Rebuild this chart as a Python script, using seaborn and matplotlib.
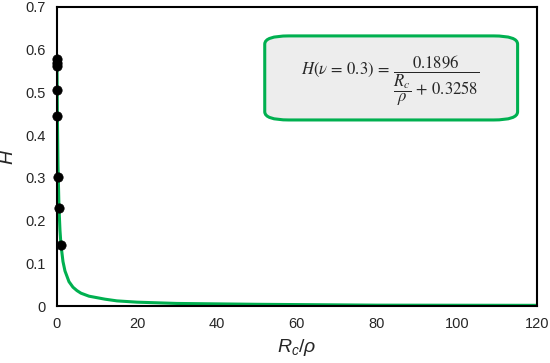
import numpy as np
import pandas as pd
import matplotlib
matplotlib.use("Agg")
import matplotlib.pyplot as plt
import seaborn as sns
from matplotlib.patches import FancyBboxPatch

# data
curve_x = [0, 0.1, 0.25, 0.5, 0.75, 1, 1.5, 2, 3, 4, 5, 6, 8, 12, 15, 20, 30, 50, 80, 120]
curve_h = [0.582, 0.445, 0.330, 0.230, 0.177, 0.143, 0.104, 0.082, 0.057, 0.044,
           0.036, 0.030, 0.023, 0.016, 0.012, 0.009, 0.006, 0.004, 0.002, 0.0016]
pts_x = [0.0, 0.005, 0.015, 0.05, 0.1, 0.3, 0.5, 1.0]
pts_h = [0.577, 0.569, 0.561, 0.505, 0.445, 0.303, 0.229, 0.143]

sns.set_style("white")
plt.rcParams['font.family'] = ['Liberation Sans', 'DejaVu Sans']
plt.rcParams['mathtext.fontset'] = 'custom'
plt.rcParams['mathtext.it'] = 'Liberation Sans:italic'
plt.rcParams['mathtext.rm'] = 'Liberation Sans'

fig = plt.figure(figsize=(5.5, 3.63), dpi=100)
ax = fig.add_axes([0.1036, 0.157, 0.8724, 0.824])

curve = pd.DataFrame({'x': curve_x, 'H': curve_h})
pts = pd.DataFrame({'x': pts_x, 'H': pts_h})
sns.lineplot(data=curve, x='x', y='H', color='#00B050', linewidth=2.2, ax=ax, zorder=2)
sns.scatterplot(data=pts, x='x', y='H', color='black', s=45, edgecolor='black', ax=ax, zorder=3, clip_on=False)

ax.set_xlim(0, 120)
ax.set_ylim(0, 0.7)
ax.set_xticks(np.arange(0, 121, 20))
ax.set_yticks(np.arange(0, 0.71, 0.1))
ax.set_yticklabels(['0', '0.1', '0.2', '0.3', '0.4', '0.5', '0.6', '0.7'])
ax.tick_params(labelsize=10.5, length=0, pad=8)
for s in ax.spines.values():
    s.set_color('black')
    s.set_linewidth(1.5)

ax.set_xlabel(r'$R_c/\rho$', fontsize=14, labelpad=4)
ax.set_ylabel(r'$H$', fontsize=14, labelpad=6)

box = FancyBboxPatch((0.433, 0.622), 0.527, 0.281, transform=ax.transAxes,
                     boxstyle='round,pad=0,rounding_size=0.05',
                     facecolor='#EDEDED', edgecolor='#00B050', linewidth=2.2, zorder=4,
                     mutation_aspect=0.55)
ax.add_patch(box)
ax.text(0.695, 0.755, r'$H(\nu\,=\,0.3)\,=\,\dfrac{0.1896}{\dfrac{R_c}{\rho}\,+\,0.3258}$',
        transform=ax.transAxes, ha='center', va='center', fontsize=12, zorder=5,
        math_fontfamily='stix')

fig.savefig('out.png', dpi=100)
